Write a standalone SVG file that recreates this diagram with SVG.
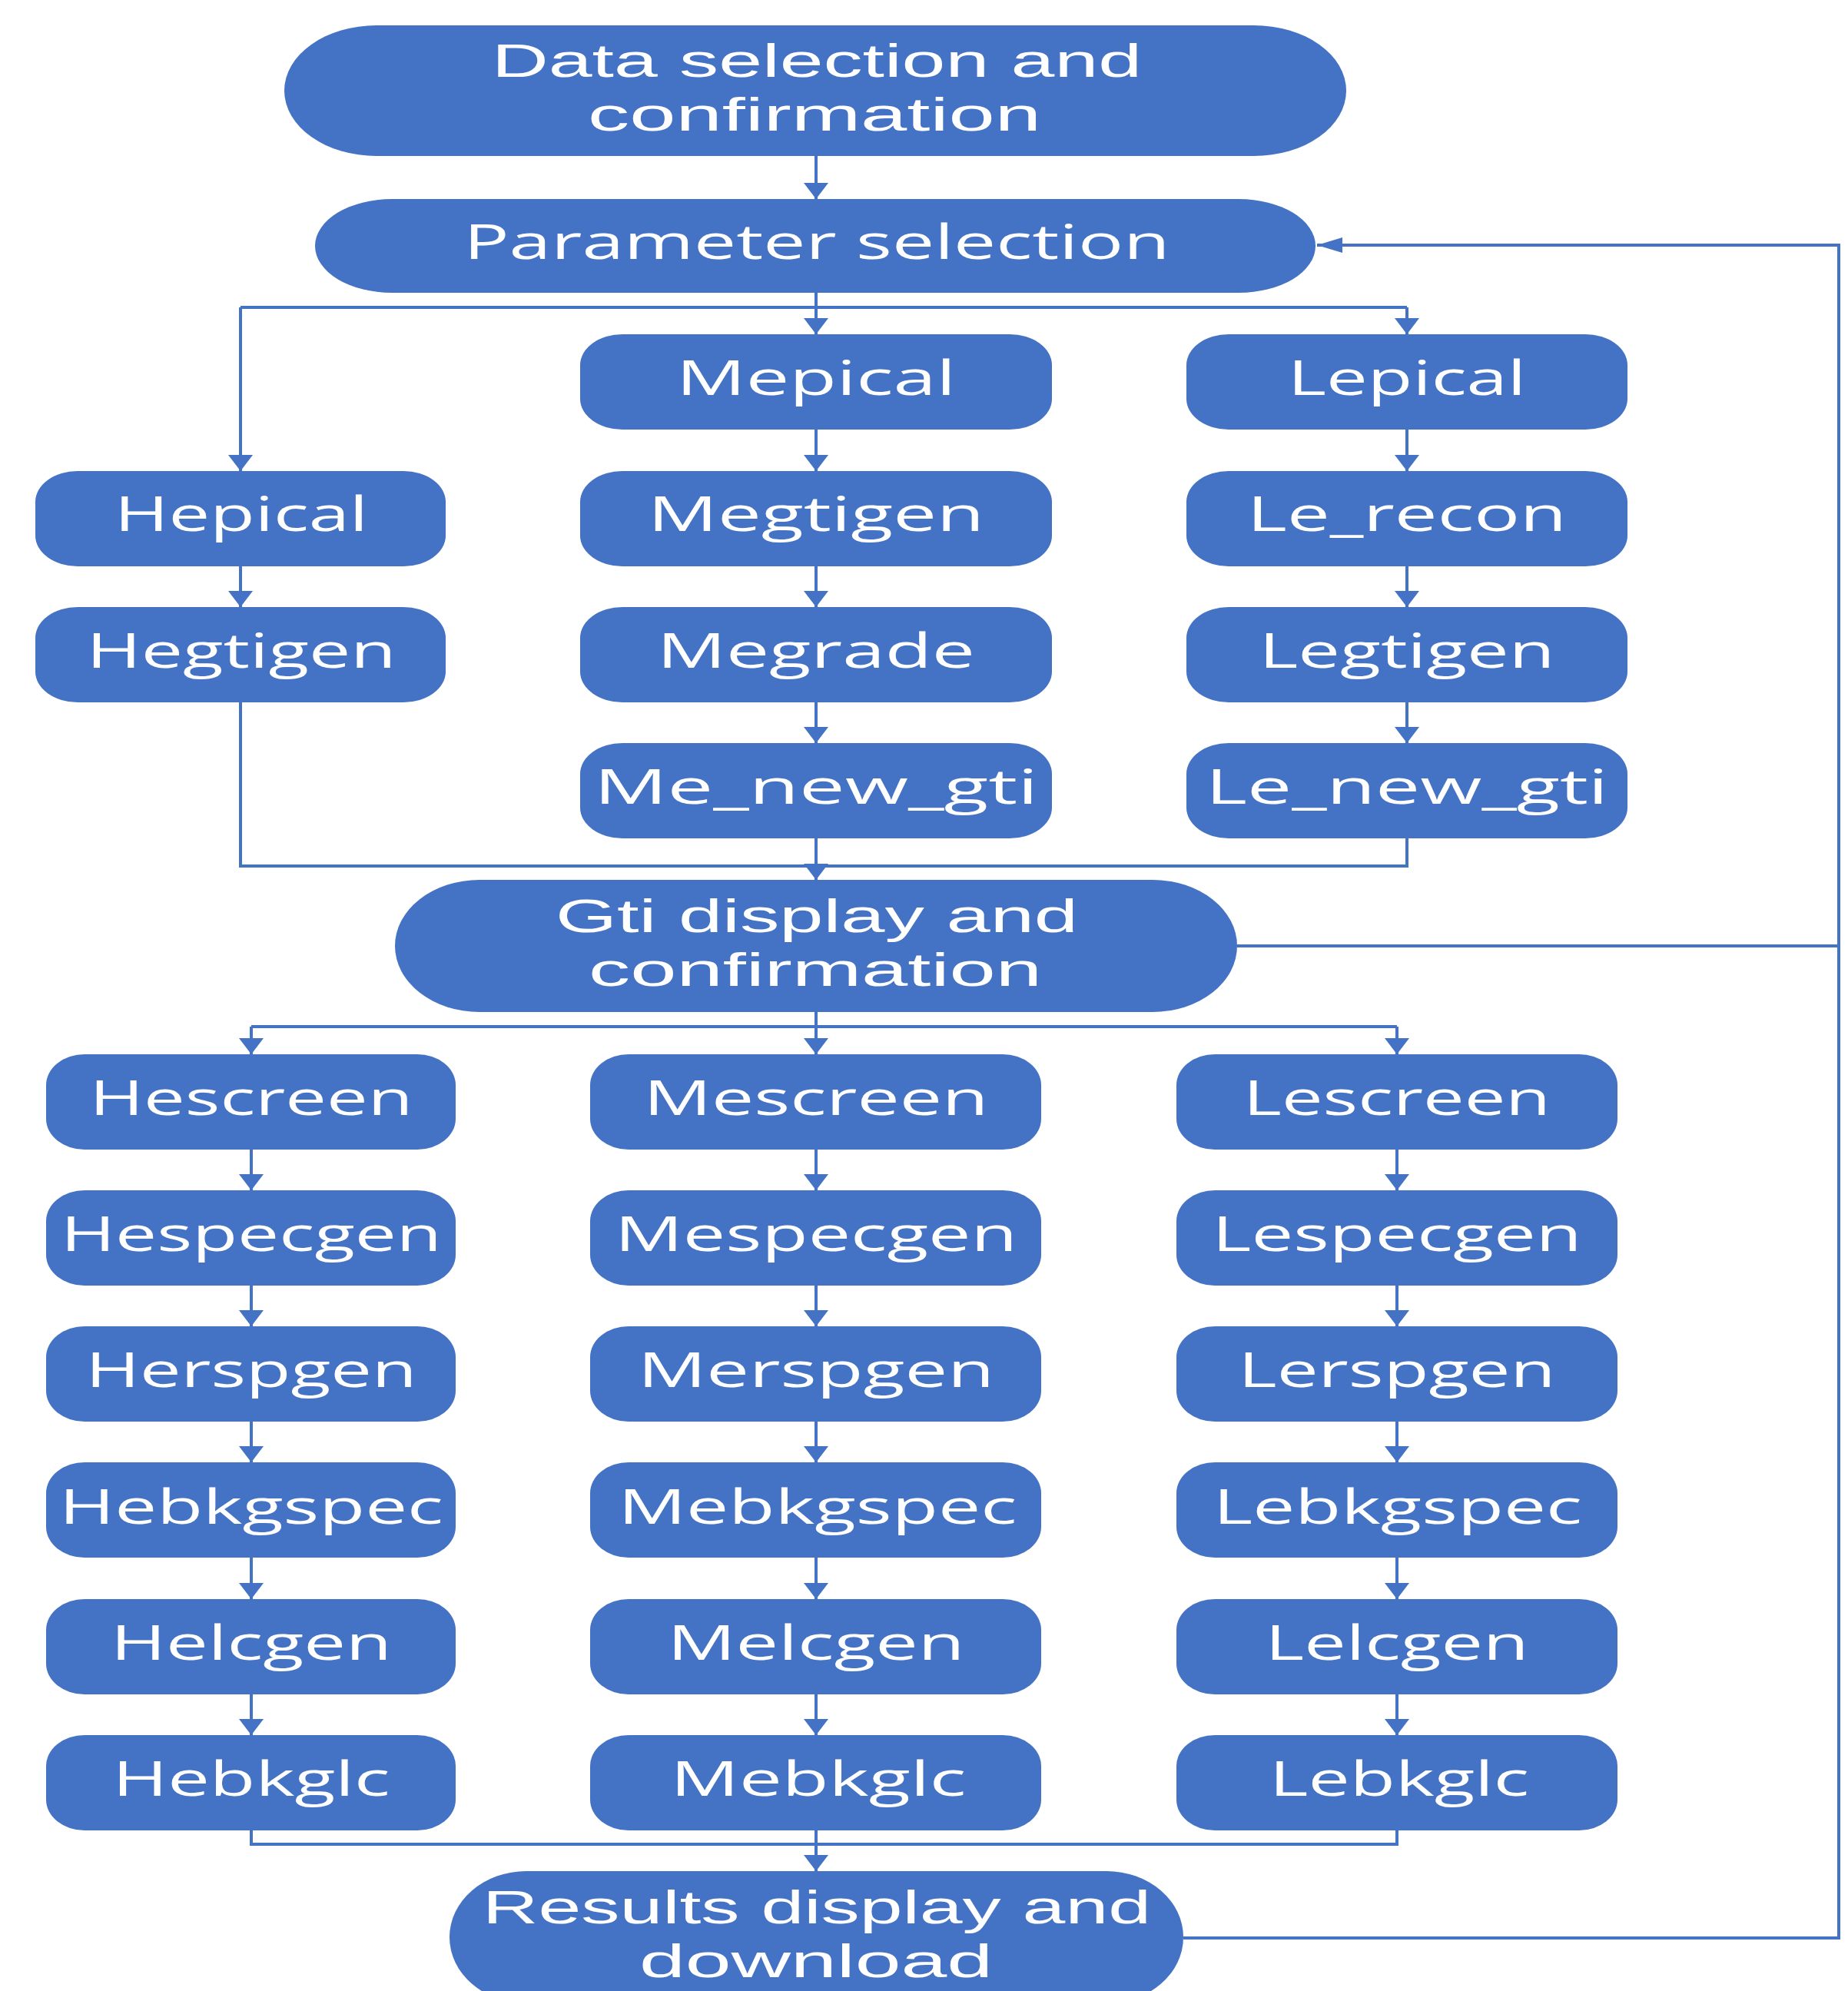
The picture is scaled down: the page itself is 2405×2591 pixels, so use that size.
<svg xmlns="http://www.w3.org/2000/svg" width="2405" height="2591" viewBox="0 0 2405 2591">
<style>
.n{fill:#4472C4}
.t{fill:#FFFFFF;font-family:"Open Sans","Noto Sans","DejaVu Sans",sans-serif;font-size:62px;text-anchor:middle}
.t2{font-family:"Liberation Sans",Arial,sans-serif}
.c{fill:none;stroke:#4472C4;stroke-width:4}
.a{marker-end:url(#av)}
</style>
<defs>
<marker id="av" viewBox="0 0 21 32" markerWidth="21" markerHeight="32" refX="21" refY="16" orient="auto" markerUnits="userSpaceOnUse"><path d="M0,0 L21,16 L0,32 Z" fill="#4472C4"/></marker>
<marker id="ah" viewBox="0 0 33 20" markerWidth="33" markerHeight="20" refX="33" refY="10" orient="auto" markerUnits="userSpaceOnUse"><path d="M0,0 L33,10 L0,20 Z" fill="#4472C4"/></marker>
</defs>
<rect width="2405" height="2591" fill="#FFFFFF"/>
<g id="connectors">
<path class="c a" d="M1062,203 V259"/>
<path class="c a" d="M1062,381 V435"/>
<path class="c" d="M313,400 H1831"/>
<path class="c a" d="M313,400 V613"/>
<path class="c a" d="M1831,400 V435"/>
<path class="c a" d="M313,736 V790"/>
<path class="c a" d="M1062,559 V613"/>
<path class="c a" d="M1062,736 V790"/>
<path class="c a" d="M1062,914 V967"/>
<path class="c a" d="M1831,559 V613"/>
<path class="c a" d="M1831,736 V790"/>
<path class="c a" d="M1831,914 V967"/>
<path class="c" d="M313,914 V1127 H1831 V1091"/>
<path class="c a" d="M1062,1091 V1145"/>
<path class="c" d="M1610,1231 H2393"/>
<path class="c" d="M1540,2522 H2393 V319 H1714" marker-end="url(#ah)"/>
<path class="c a" d="M1062,1317 V1372"/>
<path class="c" d="M327,1336 H1818"/>
<path class="c a" d="M327,1336 V1372"/>
<path class="c a" d="M1818,1336 V1372"/>
<path class="c a" d="M327,1496 V1549"/>
<path class="c a" d="M327,1673 V1726"/>
<path class="c a" d="M327,1850 V1903"/>
<path class="c a" d="M327,2027 V2081"/>
<path class="c a" d="M327,2205 V2258"/>
<path class="c a" d="M1062,1496 V1549"/>
<path class="c a" d="M1062,1673 V1726"/>
<path class="c a" d="M1062,1850 V1903"/>
<path class="c a" d="M1062,2027 V2081"/>
<path class="c a" d="M1062,2205 V2258"/>
<path class="c a" d="M1818,1496 V1549"/>
<path class="c a" d="M1818,1673 V1726"/>
<path class="c a" d="M1818,1850 V1903"/>
<path class="c a" d="M1818,2027 V2081"/>
<path class="c a" d="M1818,2205 V2258"/>
<path class="c" d="M327,2382 V2400 H1818 V2382"/>
<path class="c a" d="M1062,2382 V2435"/>
</g>
<g id="data-selection"><rect class="n" x="370" y="33" width="1382" height="170" rx="120" ry="85"/><text class="t t2"><tspan x="1063" y="100" textLength="846" lengthAdjust="spacingAndGlyphs">Data selection and</tspan><tspan x="1060" y="170" textLength="590" lengthAdjust="spacingAndGlyphs">confirmation</tspan></text></g>
<g id="parameter-selection"><rect class="n" x="410" y="259" width="1302" height="122" rx="100" ry="61"/><text class="t" x="1063" y="337" textLength="919" lengthAdjust="spacingAndGlyphs">Parameter selection</text></g>
<g id="hepical"><rect class="n" x="46" y="613" width="534" height="124" rx="55" ry="40"/><text class="t" x="314" y="691" textLength="330" lengthAdjust="spacingAndGlyphs">Hepical</text></g>
<g id="hegtigen"><rect class="n" x="46" y="790" width="534" height="124" rx="55" ry="40"/><text class="t" x="314" y="869" textLength="403" lengthAdjust="spacingAndGlyphs">Hegtigen</text></g>
<g id="mepical"><rect class="n" x="755" y="435" width="614" height="124" rx="55" ry="40"/><text class="t" x="1062" y="514" textLength="364" lengthAdjust="spacingAndGlyphs">Mepical</text></g>
<g id="megtigen"><rect class="n" x="755" y="613" width="614" height="124" rx="55" ry="40"/><text class="t" x="1062" y="691" textLength="438" lengthAdjust="spacingAndGlyphs">Megtigen</text></g>
<g id="megrade"><rect class="n" x="755" y="790" width="614" height="124" rx="55" ry="40"/><text class="t" x="1062" y="869" textLength="414" lengthAdjust="spacingAndGlyphs">Megrade</text></g>
<g id="me-new-gti"><rect class="n" x="755" y="967" width="614" height="124" rx="55" ry="40"/><text class="t" x="1062" y="1046" textLength="578" lengthAdjust="spacingAndGlyphs">Me_new_gti</text></g>
<g id="lepical"><rect class="n" x="1544" y="435" width="574" height="124" rx="55" ry="40"/><text class="t" x="1831" y="514" textLength="310" lengthAdjust="spacingAndGlyphs">Lepical</text></g>
<g id="le-recon"><rect class="n" x="1544" y="613" width="574" height="124" rx="55" ry="40"/><text class="t" x="1831" y="691" textLength="416" lengthAdjust="spacingAndGlyphs">Le_recon</text></g>
<g id="legtigen"><rect class="n" x="1544" y="790" width="574" height="124" rx="55" ry="40"/><text class="t" x="1831" y="869" textLength="385" lengthAdjust="spacingAndGlyphs">Legtigen</text></g>
<g id="le-new-gti"><rect class="n" x="1544" y="967" width="574" height="124" rx="55" ry="40"/><text class="t" x="1831" y="1046" textLength="524" lengthAdjust="spacingAndGlyphs">Le_new_gti</text></g>
<g id="gti-display"><rect class="n" x="514" y="1145" width="1096" height="172" rx="110" ry="86"/><text class="t t2"><tspan x="1063" y="1213" textLength="680" lengthAdjust="spacingAndGlyphs">Gti display and</tspan><tspan x="1061" y="1283" textLength="590" lengthAdjust="spacingAndGlyphs">confirmation</tspan></text></g>
<g id="hescreen"><rect class="n" x="60" y="1372" width="533" height="124" rx="50" ry="40"/><text class="t" x="327" y="1451" textLength="421" lengthAdjust="spacingAndGlyphs">Hescreen</text></g>
<g id="hespecgen"><rect class="n" x="60" y="1549" width="533" height="124" rx="50" ry="40"/><text class="t" x="327" y="1628" textLength="496" lengthAdjust="spacingAndGlyphs">Hespecgen</text></g>
<g id="herspgen"><rect class="n" x="60" y="1726" width="533" height="124" rx="50" ry="40"/><text class="t" x="327" y="1805" textLength="431" lengthAdjust="spacingAndGlyphs">Herspgen</text></g>
<g id="hebkgspec"><rect class="n" x="60" y="1903" width="533" height="124" rx="50" ry="40"/><text class="t" x="327" y="1983" textLength="500" lengthAdjust="spacingAndGlyphs">Hebkgspec</text></g>
<g id="helcgen"><rect class="n" x="60" y="2081" width="533" height="124" rx="50" ry="40"/><text class="t" x="327" y="2160" textLength="366" lengthAdjust="spacingAndGlyphs">Helcgen</text></g>
<g id="hebkglc"><rect class="n" x="60" y="2258" width="533" height="124" rx="50" ry="40"/><text class="t" x="327" y="2337" textLength="361" lengthAdjust="spacingAndGlyphs">Hebkglc</text></g>
<g id="mescreen"><rect class="n" x="768" y="1372" width="587" height="124" rx="50" ry="40"/><text class="t" x="1062" y="1451" textLength="449" lengthAdjust="spacingAndGlyphs">Mescreen</text></g>
<g id="mespecgen"><rect class="n" x="768" y="1549" width="587" height="124" rx="50" ry="40"/><text class="t" x="1062" y="1628" textLength="524" lengthAdjust="spacingAndGlyphs">Mespecgen</text></g>
<g id="merspgen"><rect class="n" x="768" y="1726" width="587" height="124" rx="50" ry="40"/><text class="t" x="1062" y="1805" textLength="464" lengthAdjust="spacingAndGlyphs">Merspgen</text></g>
<g id="mebkgspec"><rect class="n" x="768" y="1903" width="587" height="124" rx="50" ry="40"/><text class="t" x="1064" y="1983" textLength="519" lengthAdjust="spacingAndGlyphs">Mebkgspec</text></g>
<g id="melcgen"><rect class="n" x="768" y="2081" width="587" height="124" rx="50" ry="40"/><text class="t" x="1062" y="2160" textLength="387" lengthAdjust="spacingAndGlyphs">Melcgen</text></g>
<g id="mebkglc"><rect class="n" x="768" y="2258" width="587" height="124" rx="50" ry="40"/><text class="t" x="1065" y="2337" textLength="385" lengthAdjust="spacingAndGlyphs">Mebkglc</text></g>
<g id="lescreen"><rect class="n" x="1531" y="1372" width="574" height="124" rx="50" ry="40"/><text class="t" x="1818" y="1451" textLength="400" lengthAdjust="spacingAndGlyphs">Lescreen</text></g>
<g id="lespecgen"><rect class="n" x="1531" y="1549" width="574" height="124" rx="50" ry="40"/><text class="t" x="1818" y="1628" textLength="481" lengthAdjust="spacingAndGlyphs">Lespecgen</text></g>
<g id="lerspgen"><rect class="n" x="1531" y="1726" width="574" height="124" rx="50" ry="40"/><text class="t" x="1818" y="1805" textLength="413" lengthAdjust="spacingAndGlyphs">Lerspgen</text></g>
<g id="lebkgspec"><rect class="n" x="1531" y="1903" width="574" height="124" rx="50" ry="40"/><text class="t" x="1819" y="1983" textLength="480" lengthAdjust="spacingAndGlyphs">Lebkgspec</text></g>
<g id="lelcgen"><rect class="n" x="1531" y="2081" width="574" height="124" rx="50" ry="40"/><text class="t" x="1818" y="2160" textLength="343" lengthAdjust="spacingAndGlyphs">Lelcgen</text></g>
<g id="lebkglc"><rect class="n" x="1531" y="2258" width="574" height="124" rx="50" ry="40"/><text class="t" x="1821" y="2337" textLength="338" lengthAdjust="spacingAndGlyphs">Lebkglc</text></g>
<g id="results"><rect class="n" x="585" y="2435" width="955" height="172" rx="100" ry="86"/><text class="t t2"><tspan x="1063" y="2503" textLength="870" lengthAdjust="spacingAndGlyphs">Results display and</tspan><tspan x="1062" y="2573" textLength="460" lengthAdjust="spacingAndGlyphs">download</tspan></text></g>
</svg>
